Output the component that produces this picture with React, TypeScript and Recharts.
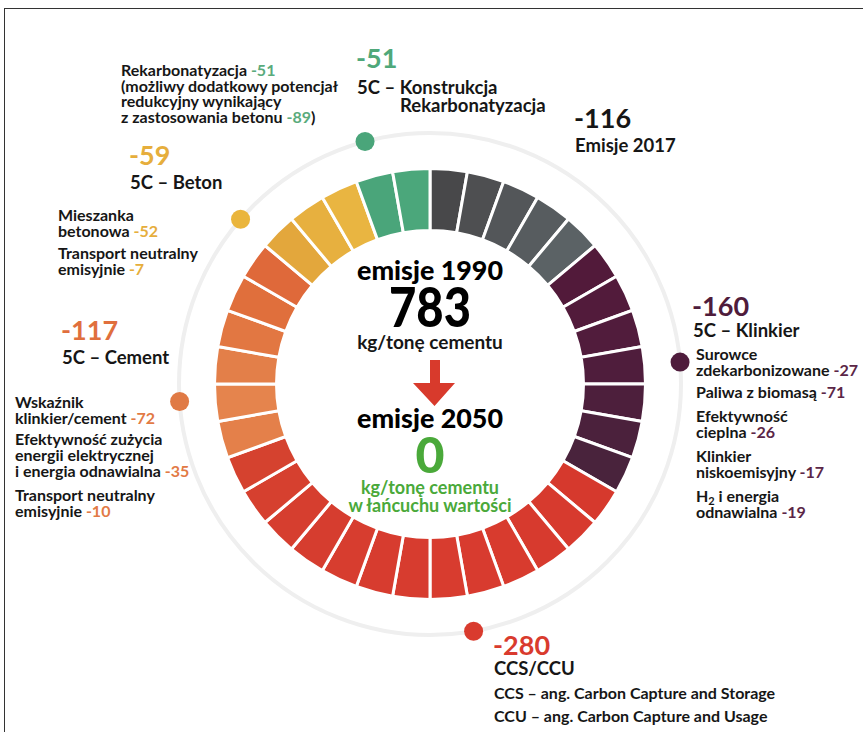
import React from "react";
import { Cell, Customized, Pie, PieChart } from "recharts";

// grupy redukcji, zgodnie z ruchem wskazówek zegara od góry
const GROUPS = ["Emisje 2017", "5C – Klinkier", "CCS/CCU", "5C – Cement", "5C – Beton", "5C – Konstrukcja"];
const GROUP_VALUES = [-116, -160, -280, -117, -59, -51];
const SEGMENT_COUNTS = [5, 7, 13, 6, 3, 2];

const SEGMENT_COLORS = [
  // szare
  "#48484a", "#4e4f51", "#535659", "#575c5f", "#5b6265",
  // klinkier
  "#521a3a", "#521b3b", "#511c3c", "#4f1d3c", "#4d1f3c", "#4b213c", "#49233c",
  // ccs/ccu
  "#d6392d", "#d73a2e", "#d73a2e", "#d83b2e", "#d83b2f", "#d83c2f", "#d73c2f",
  "#d73c2f", "#d73d2f", "#d63d2f", "#d63e2f", "#d6402f", "#d5422f",
  // cement
  "#e4804a", "#e5844d", "#e37f49", "#e27742", "#e06f3c", "#df693a",
  // beton
  "#e3a73c", "#e7b03f", "#e9b541",
  // konstrukcja
  "#4aa57a", "#4ba77b",
];

const DOT_ANGLES = [85, 170, 266, 311, 345];
const DOT_COLORS = ["#4f1c3c", "#d93b2e", "#e07a45", "#eab53c", "#4aa57a"];

const segments = SEGMENT_COUNTS.flatMap((n, g) =>
  Array.from({ length: n }, () => ({ name: GROUPS[g], group: GROUP_VALUES[g], value: 1 }))
);

const CX = 430;
const CY = 384;
const RING_R = 251;

const K = "#161616";
const GV = "#5aab7c";
const YV = "#e6ae3c";
const OV = "#e27a45";
const PV = "#5b2647";
const RV = "#d93b2e";

type Part = [string, string];

function Block({ x, y, size, lh, lines }: { x: number; y: number; size: number; lh: number; lines: Part[][] }) {
  return (
    <text x={x} y={y} fontSize={size} fontFamily="Lato" fontWeight={700}>
      {lines.map((line, i) => (
        <tspan key={i} x={x} y={y + i * lh}>
          {line.map(([t, c], j) => (
            <tspan key={j} fill={c}>
              {t}
            </tspan>
          ))}
        </tspan>
      ))}
    </text>
  );
}

function Dots() {
  return (
    <g>
      <circle cx={CX} cy={CY} r={RING_R} fill="none" stroke="#efefef" strokeWidth={4} />
      {DOT_ANGLES.map((a, i) => {
        const r = (a * Math.PI) / 180;
        return <circle key={i} cx={CX + RING_R * Math.sin(r)} cy={CY - RING_R * Math.cos(r)} r={9.5} fill={DOT_COLORS[i]} />;
      })}
    </g>
  );
}

function Texts() {
  const c = "middle";
  const H = 18.5;
  const S = 16;
  return (
    <g fontFamily="Lato" fontWeight={700}>
      {/* konstrukcja */}
      <Block x={121} y={76} size={S} lh={15.5} lines={[
        [["Rekarbonatyzacja ", K], ["-51", GV]],
        [["(możliwy dodatkowy potencjał", K]],
        [["redukcyjny wynikający", K]],
        [["z zastosowania betonu ", K], ["-89", GV], [")", K]],
      ]} />
      <text x={356} y={68} fontSize={27} fill="#4fa87a">-51</text>
      <text x={357} y={94} fontSize={H} fill={K}>5C – Konstrukcja</text>
      <text x={400} y={112} fontSize={H} fill={K}>Rekarbonatyzacja</text>
      {/* 2017 */}
      <text x={574} y={128} fontSize={27} fill={K}>-116</text>
      <text x={575} y={152} fontSize={H} fill={K}>Emisje 2017</text>
      {/* beton */}
      <text x={129} y={165} fontSize={27} fill="#e6ae3c">-59</text>
      <text x={130} y={189} fontSize={H} fill={K}>5C – Beton</text>
      <Block x={58} y={221} size={S} lh={16} lines={[[["Mieszanka", K]], [["betonowa ", K], ["-52", YV]]]} />
      <Block x={58} y={259} size={S} lh={16} lines={[[["Transport neutralny", K]], [["emisyjnie ", K], ["-7", YV]]]} />
      {/* cement */}
      <text x={61} y={340} fontSize={27} fill="#e06f3d">-117</text>
      <text x={62} y={364} fontSize={H} fill={K}>5C – Cement</text>
      <Block x={15} y={408} size={S} lh={16} lines={[[["Wskaźnik", K]], [["klinkier/cement ", K], ["-72", OV]]]} />
      <Block x={15} y={445} size={S} lh={16} lines={[
        [["Efektywność zużycia", K]],
        [["energii elektrycznej", K]],
        [["i energia odnawialna ", K], ["-35", OV]],
      ]} />
      <Block x={15} y={501} size={S} lh={16} lines={[[["Transport neutralny", K]], [["emisyjnie ", K], ["-10", OV]]]} />
      {/* klinkier */}
      <text x={692} y={316} fontSize={27} fill="#4f1c3c">-160</text>
      <text x={693} y={337} fontSize={H} fill={K}>5C – Klinkier</text>
      <Block x={696} y={360} size={S} lh={16} lines={[[["Surowce", K]], [["zdekarbonizowane ", K], ["-27", PV]]]} />
      <Block x={696} y={398} size={S} lh={16} lines={[[["Paliwa z biomasą ", K], ["-71", PV]]]} />
      <Block x={696} y={422} size={S} lh={16} lines={[[["Efektywność", K]], [["cieplna ", K], ["-26", PV]]]} />
      <Block x={696} y={462} size={S} lh={16} lines={[[["Klinkier", K]], [["niskoemisyjny ", K], ["-17", PV]]]} />
      <text x={696} y={502} fontSize={S} fill={K}>
        H<tspan fontSize={11} dy={3}>2</tspan>
        <tspan dy={-3}> i energia</tspan>
      </text>
      <Block x={696} y={518} size={S} lh={16} lines={[[["odnawialna ", K], ["-19", PV]]]} />
      {/* ccs */}
      <text x={493} y={655} fontSize={27} fill={RV}>-280</text>
      <text x={494} y={675} fontSize={H} fill={K}>CCS/CCU</text>
      <text x={494} y={699} fontSize={S} fill={K}>CCS – ang. Carbon Capture and Storage</text>
      <text x={494} y={722} fontSize={S} fill={K}>CCU – ang. Carbon Capture and Usage</text>
      {/* środek */}
      <text x={CX} y={280} fontSize={27} fontWeight={900} fill="#000" textAnchor={c} textLength={146} lengthAdjust="spacingAndGlyphs">emisje 1990</text>
      <text x={CX} y={327} fontSize={55} fontWeight={900} fill="#000" textAnchor={c} textLength={82} lengthAdjust="spacingAndGlyphs">783</text>
      <text x={CX} y={349} fontSize={19} fill={K} textAnchor={c}>kg/tonę cementu</text>
      <path d="M430 360 H440 V383 H455 L434.5 406 L413 383 H430 Z" fill="#d83a2c" />
      <text x={CX} y={428} fontSize={27} fontWeight={900} fill="#000" textAnchor={c} textLength={146} lengthAdjust="spacingAndGlyphs">emisje 2050</text>
      <text x={CX} y={473} fontSize={50} fontWeight={900} fill="#4aa93a" textAnchor={c}>0</text>
      <text x={CX} y={494} fontSize={18} fill="#4aa93a" textAnchor={c}>kg/tonę cementu</text>
      <text x={CX} y={512} fontSize={18} fill="#4aa93a" textAnchor={c}>w łańcuchu wartości</text>
    </g>
  );
}

export default function App() {
  return (
    <div style={{ position: "absolute", left: 0, top: 0, width: 863, height: 732, background: "#fff", overflow: "hidden" }}>
      <div
        style={{
          position: "absolute",
          left: 4,
          top: 8,
          width: 880,
          height: 740,
          borderTop: "1.5px solid #333",
          borderLeft: "1.5px solid #333",
        }}
      />
      <div style={{ position: "absolute", left: 0, top: 0 }}>
        <PieChart width={863} height={732} margin={{ top: 0, right: 0, bottom: 0, left: 0 }}>
          <Customized component={Dots} />
          <Pie
            data={segments}
            dataKey="value"
            cx={CX}
            cy={CY}
            innerRadius={153.5}
            outerRadius={215.5}
            startAngle={90}
            endAngle={-270}
            stroke="#ffffff"
            strokeWidth={3}
            isAnimationActive={false}
          >
            {segments.map((_, i) => (
              <Cell key={i} fill={SEGMENT_COLORS[i]} />
            ))}
          </Pie>
          <Customized component={Texts} />
        </PieChart>
      </div>
    </div>
  );
}
